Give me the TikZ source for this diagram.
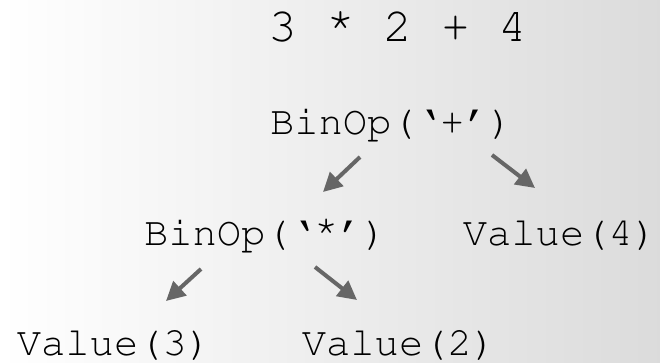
\documentclass[tikz,border=0pt]{standalone}
\usepackage[T1]{fontenc}
\usepackage{tikz}
\usetikzlibrary{arrows.meta}
\newcommand{\codefont}{\fontencoding{T1}\fontfamily{pcr}\selectfont}
\newcommand{\highstar}{\raisebox{0.2em}{*}}

\begin{document}
\begin{tikzpicture}[x=1pt, y=-1pt,
  code/.style={anchor=base, inner sep=0pt, font=\codefont\fontsize{40.5}{48}\selectfont},
  edge/.style={line width=4pt, color=black!60, -{Triangle[length=19pt, width=19pt]}}]
\shade[left color=white, right color=black!14] (0,0) rectangle (660,363);
\useasboundingbox (0,0) rectangle (660,363);

\node[code, font=\codefont\fontsize{48}{56}\selectfont] (expr) at (398, 42) {3 \highstar{} 2 + 4};

\node[code] (plus) at (391.5, 135) {BinOp(`+')};

\node[code] (times) at (265.5, 245) {BinOp(`\highstar')};
\node[code] (val4) at (560, 245) {Value(4)};

\node[code] (val3) at (114, 355) {Value(3)};
\node[code] (val2) at (399, 355) {Value(2)};

%\draw[edge] (plus) -- (times);
\draw[edge] ([shift={(-31.5,22)}]plus.base) -- ([shift={(-68.5,57)}]plus.base);
\draw[edge] ([shift={(100.5,20)}]plus.base) -- ([shift={(143.5,53)}]plus.base);

\draw[edge] ([shift={(-64.5,24)}]times.base) -- ([shift={(-99.5,56)}]times.base);
\draw[edge] ([shift={(49.5,22)}]times.base) -- ([shift={(91.5,55)}]times.base);
\end{tikzpicture}
\end{document}
